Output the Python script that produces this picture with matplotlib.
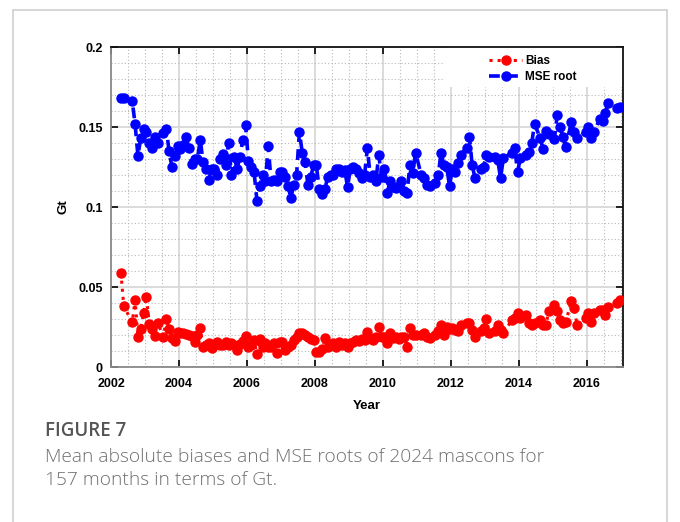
import numpy as np
import matplotlib.pyplot as plt
from matplotlib.patches import Rectangle
from matplotlib.ticker import MultipleLocator

# GRACE months used (157), with the monthly mean absolute bias and MSE root [Gt]
months = [
    "2002-04", "2002-05", "2002-08", "2002-09", "2002-10", "2002-11", "2002-12",
    "2003-01", "2003-02", "2003-03", "2003-04", "2003-05", "2003-07", "2003-08", "2003-09", "2003-10", "2003-11", "2003-12",
    "2004-01", "2004-02", "2004-03", "2004-04", "2004-05", "2004-06", "2004-07", "2004-08", "2004-09", "2004-10", "2004-11", "2004-12",
    "2005-01", "2005-02", "2005-03", "2005-04", "2005-05", "2005-06", "2005-07", "2005-08", "2005-09", "2005-10", "2005-11", "2005-12",
    "2006-01", "2006-02", "2006-03", "2006-04", "2006-05", "2006-06", "2006-07", "2006-08", "2006-09", "2006-10", "2006-11", "2006-12",
    "2007-01", "2007-02", "2007-03", "2007-04", "2007-05", "2007-06", "2007-07", "2007-08", "2007-09", "2007-10", "2007-11", "2007-12",
    "2008-01", "2008-02", "2008-03", "2008-04", "2008-05", "2008-06", "2008-07", "2008-08", "2008-09", "2008-10", "2008-11", "2008-12",
    "2009-01", "2009-02", "2009-03", "2009-04", "2009-05", "2009-06", "2009-07", "2009-08", "2009-09", "2009-10", "2009-11", "2009-12",
    "2010-01", "2010-02", "2010-03", "2010-04", "2010-05", "2010-06", "2010-07", "2010-08", "2010-09", "2010-10", "2010-11", "2010-12",
    "2011-02", "2011-03", "2011-04", "2011-05", "2011-07", "2011-08", "2011-09", "2011-10", "2011-11", "2011-12",
    "2012-01", "2012-02", "2012-03", "2012-04", "2012-06", "2012-07", "2012-08", "2012-09", "2012-11", "2012-12",
    "2013-01", "2013-02", "2013-04", "2013-05", "2013-06", "2013-07", "2013-10", "2013-11", "2013-12",
    "2014-01", "2014-03", "2014-04", "2014-05", "2014-06", "2014-08", "2014-09", "2014-10", "2014-11",
    "2015-01", "2015-02", "2015-03", "2015-04", "2015-05", "2015-07", "2015-08", "2015-09", "2015-12",
    "2016-01", "2016-02", "2016-03", "2016-05", "2016-06", "2016-07", "2016-08", "2016-11", "2016-12",
]

bias = [
    0.059, 0.038, 0.028, 0.042, 0.019, 0.024, 0.034,
    0.044, 0.027, 0.024, 0.0195, 0.0275, 0.019, 0.030, 0.024, 0.018, 0.0165, 0.022,
    0.021, 0.0215, 0.0205, 0.020, 0.0195, 0.0155, 0.0198, 0.0244, 0.0125, 0.0135, 0.015, 0.012,
    0.0135, 0.0155, 0.014, 0.0135, 0.0155, 0.0135, 0.015, 0.0135, 0.0105, 0.0145, 0.0165, 0.0195,
    0.0125, 0.0138, 0.0169, 0.0081, 0.0175, 0.0125, 0.015, 0.0125, 0.0125, 0.015, 0.0088, 0.0156,
    0.0156, 0.0106, 0.0125, 0.014, 0.0169, 0.019, 0.0213, 0.0213, 0.020, 0.0188, 0.0175, 0.0169,
    0.0094, 0.0094, 0.011, 0.0181, 0.0125, 0.014, 0.015, 0.0125, 0.0156, 0.0135, 0.015, 0.0125,
    0.015, 0.0156, 0.0169, 0.016, 0.0175, 0.0169, 0.0219, 0.018, 0.0169, 0.019, 0.0252, 0.019,
    0.0189, 0.015, 0.0211, 0.018, 0.0189, 0.0175, 0.0189, 0.019, 0.0127, 0.0245, 0.020, 0.020,
    0.020, 0.0211, 0.019, 0.018, 0.020, 0.0222, 0.0263, 0.020, 0.0252, 0.024,
    0.0242, 0.023, 0.0222, 0.0263, 0.0277, 0.0275, 0.0232, 0.0189, 0.0222, 0.0242,
    0.030, 0.0211, 0.0222, 0.0263, 0.0231, 0.0211, 0.0294, 0.0305, 0.034,
    0.0305, 0.0325, 0.0273, 0.0263, 0.0273, 0.0294, 0.0263, 0.0263, 0.0349,
    0.039, 0.0349, 0.0294, 0.0273, 0.028, 0.0411, 0.0369, 0.0263, 0.0305,
    0.0336, 0.0284, 0.0336, 0.0355, 0.0355, 0.0325, 0.0377, 0.0401, 0.0419,
]

mse_root = [
    0.168, 0.168, 0.166, 0.152, 0.132, 0.143, 0.149,
    0.147, 0.140, 0.137, 0.144, 0.140, 0.146, 0.149, 0.135, 0.125, 0.132, 0.138,
    0.136, 0.139, 0.144, 0.137, 0.127, 0.130, 0.130, 0.142, 0.128, 0.124, 0.117, 0.124,
    0.124, 0.120, 0.130, 0.133, 0.126, 0.140, 0.120, 0.131, 0.124, 0.131, 0.142, 0.151,
    0.129, 0.125, 0.122, 0.104, 0.113, 0.120, 0.116, 0.138, 0.116, 0.117, 0.116, 0.122,
    0.122, 0.119, 0.113, 0.1055, 0.114, 0.120, 0.147, 0.134, 0.128, 0.114, 0.119, 0.126,
    0.126, 0.111, 0.108, 0.111, 0.119, 0.120, 0.120, 0.124, 0.124, 0.122, 0.123, 0.1125,
    0.124, 0.125, 0.124, 0.121, 0.118, 0.120, 0.137, 0.119, 0.120, 0.116, 0.1325, 0.119,
    0.124, 0.109, 0.116, 0.1125, 0.112, 0.113, 0.116, 0.110, 0.109, 0.126, 0.121, 0.134,
    0.120, 0.118, 0.114, 0.113, 0.115, 0.120, 0.134, 0.126, 0.125, 0.113,
    0.124, 0.122, 0.1275, 0.1325, 0.137, 0.144, 0.126, 0.118, 0.124, 0.125,
    0.1325, 0.131, 0.1313, 0.1294, 0.118, 0.1306, 0.1338, 0.1369, 0.1219,
    0.1306, 0.1325, 0.1344, 0.140, 0.1519, 0.1431, 0.1363, 0.1475, 0.1456,
    0.1425, 0.1575, 0.150, 0.1438, 0.1375, 0.1531, 0.1469, 0.1431, 0.1469,
    0.150, 0.1431, 0.1469, 0.155, 0.1538, 0.1588, 0.165, 0.1619, 0.1625,
]

# decimal year at mid-month
t = np.array([int(s[:4]) + (int(s[5:]) - 0.5) / 12. for s in months])

fig = plt.figure(figsize=(6.8, 5.22), dpi=100)
fig.patches.append(Rectangle((13/680, -0.05), 654/680, 1.05 - 10/522, transform=fig.transFigure,
                             facecolor='none', edgecolor='#cfcfcf', linewidth=1.2))

ax = fig.add_axes([111/680, 1 - 367/522, 512/680, 320/522])

ax.plot(t, bias, color='red', linestyle=':', linewidth=2.2, marker='o', markersize=6.5, label='Bias', zorder=3)
ax.plot(t, mse_root, color='blue', linestyle=(0, (3, 2)), linewidth=2.6, marker='o', markersize=6.5,
        label='MSE root', zorder=3)

ax.set_xlim(2002, 2017.06)
ax.set_ylim(0, 0.2)
ax.set_xticks(np.arange(2002, 2017, 2))
ax.set_yticks([0, 0.05, 0.1, 0.15, 0.2])
ax.set_yticklabels(['0', '0.05', '0.1', '0.15', '0.2'])
ax.xaxis.set_minor_locator(MultipleLocator(0.5))
ax.yaxis.set_minor_locator(MultipleLocator(0.01))

ax.grid(which='major', color='#d8d8d8', linewidth=1.3, linestyle='-')
ax.grid(which='minor', color='#b8b8b8', linewidth=0.8, linestyle=(0, (1, 2)))
ax.set_axisbelow(True)

ax.tick_params(which='major', direction='in', length=5, width=1.2, top=True, right=True, labelsize=9)
ax.tick_params(axis='x', which='major', pad=8)
ax.tick_params(axis='y', which='major', pad=6)
ax.tick_params(which='minor', length=0)
for lab in ax.get_xticklabels() + ax.get_yticklabels():
    lab.set_fontweight('bold')
    lab.set_family('Liberation Sans')

for side in ['top', 'right']:
    ax.spines[side].set_color('#111111')
    ax.spines[side].set_linewidth(1.3)
for side in ['left', 'bottom']:
    ax.spines[side].set_color('#8a8a8a')
    ax.spines[side].set_linewidth(1.3)

ax.set_xlabel('Year', fontsize=9.5, fontweight='bold', family='Liberation Sans', labelpad=7)
ax.set_ylabel('Gt', fontsize=9.5, fontweight='bold', family='Liberation Sans', labelpad=6)

# white patch behind the legend, hides the grid in the corner
ax.add_patch(Rectangle(((445 - 111)/512, (367 - 87)/320), (623 - 445)/512, 40/320, transform=ax.transAxes,
                       facecolor='white', edgecolor='none', zorder=2))
leg = ax.legend(loc='upper right', frameon=False, handlelength=2.8, handletextpad=0.2,
                labelspacing=0.35, borderaxespad=0.3, bbox_to_anchor=(0.925, 1.0),
                prop={'family': 'Liberation Sans', 'weight': 'bold', 'size': 8.5})
leg.set_zorder(5)

fig.text(45/680, 1 - 431/522, 'FIGURE 7', fontsize=13.5, color='#555555', family='Open Sans',
         fontweight='semibold', va='center')
fig.text(45/680, 1 - 457/522, 'Mean absolute biases and MSE roots of 2024 mascons for', fontsize=13.75,
         color='#707070', family='Open Sans', fontweight='light', va='center')
fig.text(45/680, 1 - 480/522, '157 months in terms of Gt.', fontsize=13.75,
         color='#707070', family='Open Sans', fontweight='light', va='center')

fig.savefig('out.png', dpi=100)
